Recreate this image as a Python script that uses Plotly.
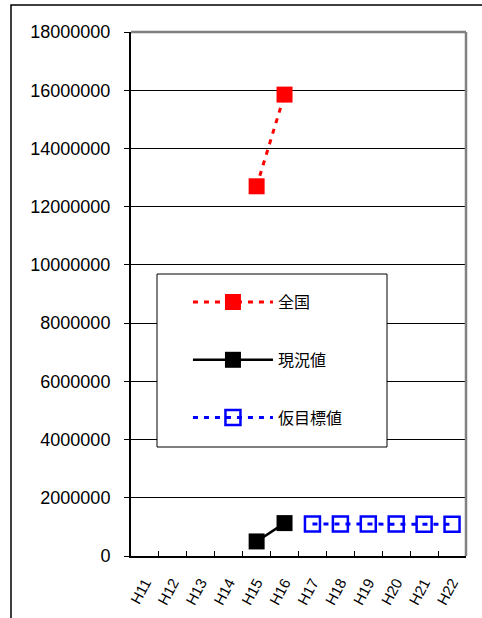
import plotly.graph_objects as go

categories = ["H11", "H12", "H13", "H14", "H15", "H16", "H17", "H18", "H19", "H20", "H21", "H22"]
zenkoku_x = ["H15", "H16"]
zenkoku_y = [12700000, 15850000]
genkyo_x = ["H15", "H16"]
genkyo_y = [500000, 1130000]
mokuhyo_x = ["H17", "H18", "H19", "H20", "H21", "H22"]
mokuhyo_y = [1100000, 1100000, 1100000, 1100000, 1090000, 1090000]
y_ticks = list(range(0, 18000001, 2000000))

fig = go.Figure()
fig.add_trace(go.Scatter(x=zenkoku_x, y=zenkoku_y, name="全国", mode="lines+markers",
                         line=dict(color="#ff0000", width=3, dash="5px,6px"),
                         marker=dict(symbol="square", size=16, color="#ff0000"),
                         legendgroup="a"))
fig.add_trace(go.Scatter(x=genkyo_x, y=genkyo_y, name="現況値", mode="lines+markers",
                         line=dict(color="#000000", width=2.5),
                         marker=dict(symbol="square", size=16, color="#000000"),
                         legendgroup="b"))
fig.add_trace(go.Scatter(x=mokuhyo_x, y=mokuhyo_y, name="仮目標値", mode="lines+markers",
                         line=dict(color="#0000ff", width=3, dash="5px,6px"),
                         marker=dict(symbol="square-open", size=15, color="#0000ff",
                                     line=dict(width=2.5, color="#0000ff")),
                         legendgroup="c"))

fig.update_layout(
    width=482, height=618,
    margin=dict(l=131, r=16, t=32, b=62),
    paper_bgcolor="white", plot_bgcolor="white",
    font=dict(family="Liberation Sans, Arial, sans-serif", color="black"),
    showlegend=True,
    legend=dict(x=0.17, y=0.517, xanchor="left", yanchor="top",
                bgcolor="rgba(0,0,0,0)", borderwidth=0,
                font=dict(family="Noto Sans CJK JP", size=16, color="black"),
                itemwidth=80, tracegroupgap=34, traceorder="grouped"),
    xaxis=dict(type="category", categoryorder="array", categoryarray=categories,
               range=[-0.5, 11.5], tickvals=categories, ticktext=categories,
               showgrid=False, showline=True, linecolor="black", linewidth=2,
               ticks="inside", tickson="boundaries", ticklen=5, tickcolor="black",
               tickangle=-62, ticklabelstandoff=10, automargin=False,
               tickfont=dict(size=15, family="Liberation Sans")),
    yaxis=dict(range=[0, 18000000], tickvals=y_ticks, tickformat="d",
               showgrid=True, gridcolor="black", gridwidth=1,
               showline=True, linecolor="black", linewidth=2,
               ticks="outside", ticklen=5, tickcolor="black", automargin=False,
               ticklabelstandoff=10, tickfont=dict(size=18, family="Liberation Sans"),
               zeroline=False),
    shapes=[
        dict(type="rect", xref="paper", yref="paper", x0=(11 - 131) / 335, x1=1.3,
             y0=-0.5, y1=(556 - 5) / 524, line=dict(color="black", width=1.5),
             fillcolor="rgba(0,0,0,0)", layer="below"),
        dict(type="line", xref="paper", yref="paper", x0=0, x1=1, y0=1, y1=1,
             line=dict(color="#808080", width=2.5)),
        dict(type="line", xref="paper", yref="paper", x0=1, x1=1, y0=0, y1=1,
             line=dict(color="#808080", width=2.5)),
        dict(type="rect", xref="paper", yref="paper",
             x0=(157 - 131) / 335, x1=(387 - 131) / 335,
             y0=(556 - 447) / 524, y1=(556 - 274) / 524,
             line=dict(color="black", width=1), fillcolor="white", layer="above"),
    ],
)

fig.write_html("out.html")
